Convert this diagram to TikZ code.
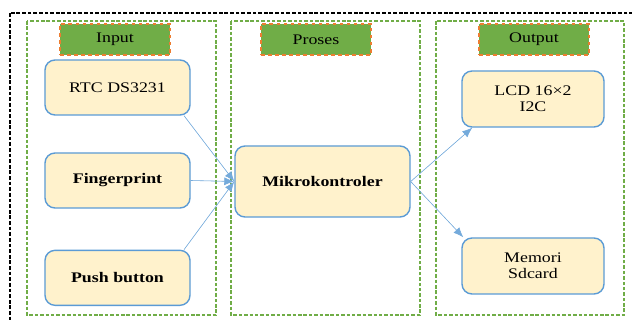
\documentclass[tikz,border=0pt]{standalone}
\usepackage{fontspec}
\setmainfont[FakeStretch=1.22]{Liberation Serif}
\usepackage{xcolor}
\usepackage{tikz}
\usetikzlibrary{positioning, arrows.meta}
\definecolor{panelgreen}{HTML}{70AD47}
\definecolor{headorange}{HTML}{ED7D31}
\definecolor{boxblue}{HTML}{5B9BD5}
\definecolor{boxfill}{HTML}{FFF2CC}
\tikzset{
	>={Latex[length=3mm, width=2.4mm]}, % filled arrow heads
	block/.style={draw=boxblue, line width=1.2pt, fill=boxfill, rounded corners=3mm, align=center, font=\fontsize{12.5}{14}\selectfont}, % the yellow boxes
	header/.style={draw=headorange, dashed, line width=1pt, fill=panelgreen, minimum width=33mm, minimum height=9.3mm, font=\fontsize{12.5}{13}\selectfont}, % titles of the panels
	panel/.style={draw=panelgreen, line width=1pt, dash pattern=on 3pt off 1.6pt}, % dashed group frames
	link/.style={->, draw=boxblue!85, fill=boxblue!85, line width=0.5pt}, % connectors
}
\begin{document}
\begin{tikzpicture}[x=0.3mm, y=-0.3mm, node distance=2cm, on grid]
		\clip (0,0) rectangle (632,320);
		\useasboundingbox (0,0) rectangle (632,320);
		% Frames
		\draw[line width=1.1pt, dash pattern=on 3.2pt off 1.6pt] (10,13) rectangle (640,330);
		\draw[panel] (27,21) rectangle (216,315);
		\draw[panel] (231,21) rectangle (420,315);
		\draw[panel] (436,21) rectangle (624,315);
		
		% Headers
		\node[header] (hin) at (115,39.5) {Input};
		\node[header] (hpr) at (316,39.5) {Proses};
		\node[header] (hout) at (534,39.5) {Output};
		
		% Input blocks
		\node[block, minimum width=43.5mm, minimum height=16.5mm] (rtc) at (117.5,87.5) {RTC DS3231};
		\node[block, minimum width=43.5mm, minimum height=16.5mm, below=27.9mm of rtc] (fp) {\textbf{Fingerprint}};
		\node[block, minimum width=43.5mm, minimum height=16.5mm, below=29.2mm of fp] (pb) {\textbf{Push button}};
		
		% Process block
		\node[block, minimum width=52.5mm, minimum height=21.3mm] (mcu) at (322.5,181.5) {\textbf{Mikrokontroler}};
		
		% Output blocks
		\node[block, minimum width=42.6mm, minimum height=16.8mm] (lcd) at (533,99) {LCD 16×2\\I2C};
		\node[block, minimum width=42.6mm, minimum height=16.8mm, below=50.1mm of lcd] (sd) {Memori\\Sdcard};
		
		% Connections
		\draw[link] ([xshift=-2mm]rtc.south east) -- (mcu.west);
		\draw[link] (fp.east) -- (mcu.west);
		\draw[link] ([xshift=-2mm]pb.north east) -- (mcu.west);
		\draw[link] (mcu.east) -- ([xshift=3.3mm]lcd.south west);
		\draw[link] (mcu.east) -- ([xshift=0.6mm]sd.north west);
		
	\end{tikzpicture}
\end{document}
